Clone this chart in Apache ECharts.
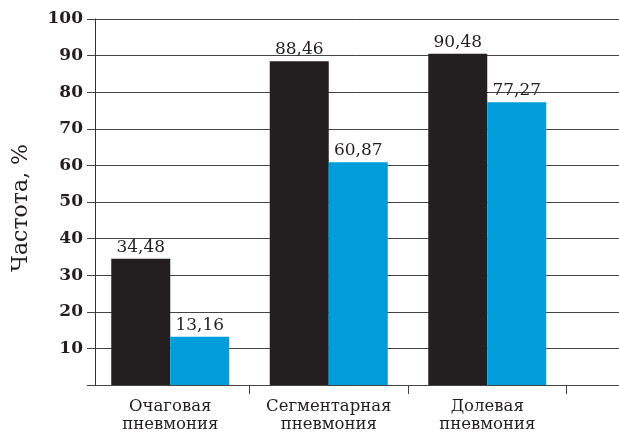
<!DOCTYPE html>
<meta charset="utf-8">
<title>Частота пневмонии</title>
<style>
body { margin: 0; background: #fff; }
</style>
<body>
  <script src="https://cdn.jsdelivr.net/npm/echarts@6/dist/echarts.min.js"></script>
  <div id="main" style="width: 619px;height:434px;"></div>
  <script type="text/javascript">
      // данные
      var categories = ['Очаговая\nпневмония', 'Сегментарная\nпневмония', 'Долевая\nпневмония'];
      var seriesBlack = [34.48, 88.46, 90.48];
      var seriesBlue = [13.16, 60.87, 77.27];
      var yTicks = [10, 20, 30, 40, 50, 60, 70, 80, 90, 100];

      var serif = '"DejaVu Serif", "Liberation Serif", serif';
      var ink = '#231f20';

      function fmt(p) {
          return p.value.toFixed(2).replace('.', ',');
      }

      var myChart = echarts.init(document.getElementById('main'));
      var option = {
          animation: false,
          grid: {
              left: 91,
              top: 19,
              bottom: 49,
              right: -106,
              outerBoundsMode: 'none',
              containLabel: false
          },
          xAxis: {
              type: 'category',
              data: categories.concat(['']),
              axisLine: { lineStyle: { color: '#444', width: 1 } },
              axisTick: {
                  show: true,
                  length: 9,
                  interval: function (i) { return i > 0; },
                  lineStyle: { color: '#444' }
              },
              axisLabel: {
                  interval: 0,
                  color: ink,
                  fontFamily: serif,
                  fontSize: 16.5,
                  lineHeight: 18,
                  margin: 13
              }
          },
          yAxis: {
              type: 'value',
              min: 0,
              max: 100,
              interval: 10,
              offset: -4,
              name: 'Частота, %',
              nameLocation: 'middle',
              nameRotate: 90,
              nameGap: 63,
              nameTextStyle: {
                  color: ink,
                  fontFamily: serif,
                  fontSize: 22,
                  padding: [0, 12, 0, 0]
              },
              axisLine: { show: true, lineStyle: { color: '#333', width: 1 } },
              axisTick: { show: true, length: 8, lineStyle: { color: '#444' } },
              axisLabel: {
                  color: ink,
                  fontFamily: serif,
                  fontSize: 17,
                  fontWeight: 'bold',
                  margin: 12,
                  formatter: function (v) {
                      return yTicks.indexOf(v) >= 0 ? String(v) : '';
                  }
              },
              splitLine: { lineStyle: { color: '#444', width: 1 } }
          },
          series: [{
              type: 'bar',
              data: seriesBlack,
              barWidth: 59,
              barGap: '0%',
              itemStyle: { color: '#231f20' },
              label: {
                  show: true,
                  position: 'top',
                  distance: 3,
                  color: ink,
                  fontFamily: serif,
                  fontSize: 17,
                  formatter: fmt
              }
          }, {
              type: 'bar',
              data: seriesBlue,
              barWidth: 59,
              itemStyle: { color: '#009ddb' },
              label: {
                  show: true,
                  position: 'top',
                  distance: 3,
                  color: ink,
                  fontFamily: serif,
                  fontSize: 17,
                  formatter: fmt
              }
          }]
      };

      myChart.setOption(option);
  </script>
</body>
